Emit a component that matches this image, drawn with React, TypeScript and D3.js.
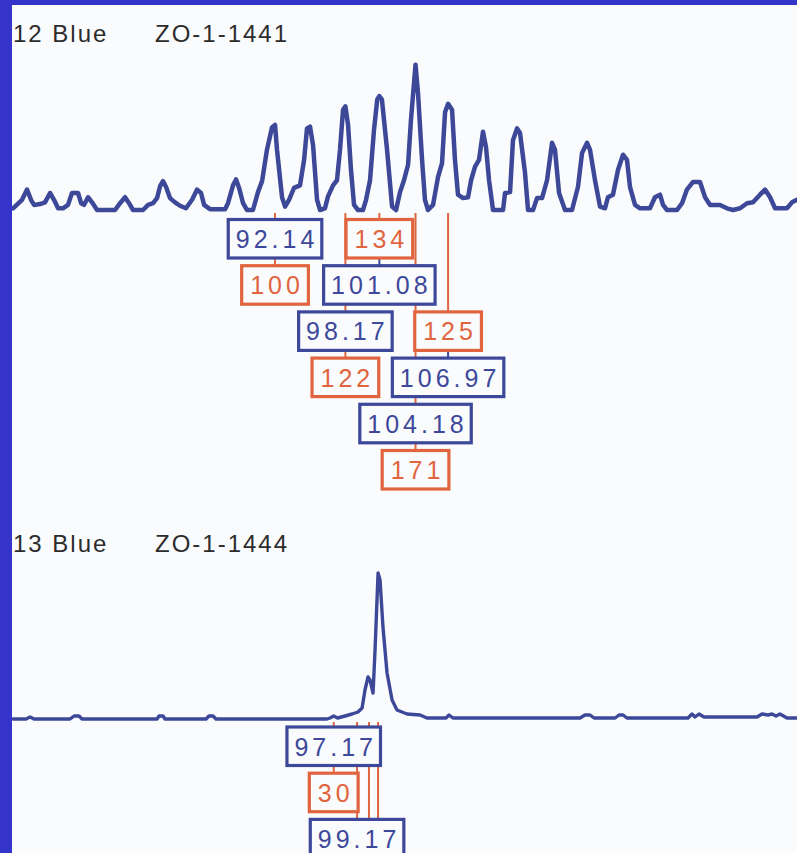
import React, { useEffect } from 'react';
import * as d3 from 'd3';

const W = 797;
const H = 853;

// x axis: fragment size in bp
const sizeDomain: [number, number] = [69.6, 136.87];

// panel 1 trace: [size (bp), height (RFU)]
const topTrace: [number, number][] = [
  [69.69, 2], [70.46, 12], [70.89, 24], [71.23, 12], [71.49, 6], [72.0, 7], [72.43, 9], [72.86, 20],
  [73.2, 12], [73.55, 2], [73.97, 2], [74.4, 6], [74.74, 20], [75.26, 20], [75.52, 8], [75.77, 6],
  [76.12, 15], [76.46, 9], [76.89, 0], [78.43, 0], [78.86, 8], [79.29, 15], [79.63, 8], [79.97, 0],
  [80.83, 0], [81.26, 6], [81.69, 8], [82.03, 14], [82.29, 28], [82.54, 34], [82.8, 27], [83.14, 14],
  [83.57, 9], [84.0, 5], [84.51, 2], [85.03, 12], [85.46, 24], [85.8, 20], [86.06, 6], [86.57, 1],
  [87.86, 1], [88.11, 8], [88.54, 29], [88.8, 36], [89.06, 26], [89.4, 8], [89.74, 0], [90.25, 0],
  [90.68, 21], [91.03, 34], [91.45, 71], [91.88, 97], [92.14, 100], [92.31, 71], [92.74, 15], [93.0, 4],
  [93.34, 12], [93.77, 26], [94.28, 29], [94.63, 59], [94.88, 96], [95.14, 98], [95.4, 76], [95.74, 12],
  [96.0, 0], [96.42, 2], [96.68, 16], [97.11, 29], [97.45, 35], [97.71, 71], [97.97, 118], [98.17, 122],
  [98.4, 100], [98.65, 47], [98.91, 6], [99.25, 0], [99.68, 0], [99.94, 12], [100.28, 35], [100.62, 94],
  [100.9, 130], [101.08, 134], [101.3, 130], [101.74, 71], [102.17, 4], [102.51, 0], [102.85, 21], [103.19, 35],
  [103.54, 53], [103.79, 106], [104.18, 171], [104.39, 138], [104.74, 59], [104.99, 12], [105.25, 0], [105.68, 6],
  [106.11, 39], [106.45, 55], [106.71, 115], [106.97, 125], [107.31, 118], [107.56, 59], [107.82, 18], [108.25, 14],
  [108.68, 15], [108.94, 35], [109.28, 51], [109.62, 59], [109.96, 92], [110.22, 74], [110.48, 35], [110.82, 0],
  [111.68, 0], [111.85, 20], [112.28, 21], [112.53, 82], [112.88, 96], [113.13, 91], [113.56, 44], [113.82, 0],
  [114.25, 0], [114.59, 14], [115.02, 14], [115.45, 35], [115.88, 79], [116.13, 71], [116.48, 20], [116.99, 0],
  [117.59, 0], [118.1, 27], [118.45, 67], [118.88, 79], [119.13, 71], [119.56, 35], [119.99, 4], [120.42, 2],
  [120.67, 15], [121.1, 18], [121.53, 47], [121.96, 65], [122.3, 59], [122.56, 27], [122.99, 6], [123.42, 2],
  [124.27, 2], [124.7, 15], [125.13, 18], [125.39, 6], [125.73, 0], [126.59, 0], [127.02, 8], [127.44, 24],
  [127.96, 33], [128.56, 33], [128.99, 15], [129.42, 6], [130.27, 6], [130.87, 2], [131.39, 0], [131.99, 2],
  [132.59, 8], [133.1, 9], [133.7, 18], [134.13, 24], [134.56, 15], [134.99, 2], [136.01, 2], [136.44, 9],
  [136.87, 12],
];

// panel 2 trace: [size (bp), height (RFU)]
const bottomTrace: [number, number][] = [
  [69.69, 0], [70.8, 0], [71.15, 20], [71.49, 0], [74.57, 0], [74.92, 30], [75.34, 30], [75.6, 0],
  [82.03, 0], [82.2, 30], [82.54, 30], [82.71, 0], [86.23, 0], [86.48, 30], [86.83, 30], [87.08, 0],
  [96.6, 0], [96.85, 10], [97.17, 30], [97.5, 10], [98.14, 30], [98.74, 50], [99.25, 70], [99.6, 110],
  [99.85, 290], [100.11, 420], [100.28, 390], [100.54, 260], [100.71, 690], [100.97, 1460], [101.14, 1390], [101.39, 920],
  [101.74, 460], [102.17, 190], [102.59, 90], [103.45, 50], [104.57, 40], [105.16, 10], [106.79, 10], [107.05, 40],
  [107.39, 10], [118.28, 10], [118.7, 40], [119.13, 40], [119.48, 10], [121.28, 10], [121.62, 40], [121.96, 40],
  [122.3, 10], [127.53, 10], [127.87, 50], [128.13, 20], [128.47, 50], [128.9, 20], [133.44, 20], [133.87, 50],
  [134.39, 40], [134.73, 50], [135.07, 30], [135.41, 50], [136.01, 10], [136.87, 10],
];

const dyeLabels = ['12 Blue', '13 Blue'];
const sampleNames = ['ZO-1-1441', 'ZO-1-1444'];

// panel 1 peak calls
const topPeakSizes = [92.14, 98.17, 101.08, 104.18, 106.97];
const topPeakHeights = [100, 122, 134, 171, 125];
const topSizeRows = [0, 2, 1, 4, 3];
const topHeightRows = [1, 3, 0, 5, 2];

// panel 2 peak calls
const bottomPeakSizes = [97.17, 99.17];
const bottomPeakHeights: (number | null)[] = [30, null];
const bottomSizeRows = [0, 2];
const bottomHeightRows: (number | null)[] = [1, null];
const bottomUnlabelledPeaks = [100.19, 100.97];

const BG = '#fafbfd';
const FRAME = '#3434ca';
const TRACE = '#3d4899';
const BLUE = '#3d489a';
const RED = '#e0653f';
const TITLE = '#2c2c2c';
const FONT = '"Liberation Sans", Arial, Helvetica, sans-serif';
const LFS = 25;
const LLS = 4;
const BOX_H = 38.5;

let measureCtx: CanvasRenderingContext2D | null = null;
function textWidth(s: string): number {
  if (!measureCtx) measureCtx = document.createElement('canvas').getContext('2d');
  if (!measureCtx) return s.length * 15;
  measureCtx.font = `${LFS}px ${FONT}`;
  return measureCtx.measureText(s).width + LLS * (s.length - 1);
}

type Item = { text: string; row: number; color: string };
type Peak = { size: number; items: Item[] };

function buildPeaks(
  sizes: number[],
  heights: (number | null)[],
  sRows: number[],
  hRows: (number | null)[]
): Peak[] {
  return sizes.map((s, i) => {
    const items: Item[] = [{ text: s.toFixed(2), row: sRows[i], color: BLUE }];
    const h = heights[i];
    const hr = hRows[i];
    if (h != null && hr != null) items.push({ text: String(h), row: hr, color: RED });
    items.sort((a, b) => a.row - b.row);
    return { size: s, items };
  });
}

function Labels({
  peaks,
  x,
  baseY,
  firstRowTop,
  unlabelled,
}: {
  peaks: Peak[];
  x: d3.ScaleLinear<number, number>;
  baseY: number;
  firstRowTop: number;
  unlabelled: number[];
}) {
  const rowTop = (r: number) => firstRowTop + r * 46.2;
  const lines: any[] = [];
  const boxes: any[] = [];
  unlabelled.forEach((s, i) => {
    lines.push(
      <line key={`u${i}`} x1={x(s)} x2={x(s)} y1={baseY} y2={H} stroke={RED} strokeWidth={2} />
    );
  });
  peaks.forEach((p, pi) => {
    const cx = x(p.size);
    lines.push(
      <line key={`s${pi}`} x1={cx} x2={cx} y1={baseY} y2={rowTop(p.items[0].row)} stroke={RED} strokeWidth={2} />
    );
    p.items.forEach((it, ii) => {
      if (ii > 0) {
        lines.push(
          <line
            key={`c${pi}-${ii}`}
            x1={cx}
            x2={cx}
            y1={rowTop(p.items[ii - 1].row) + BOX_H}
            y2={rowTop(it.row)}
            stroke={it.color}
            strokeWidth={2}
          />
        );
      }
      const tw = textWidth(it.text);
      const bw = tw + (it.text.length <= 3 ? 17 : 15);
      const top = rowTop(it.row);
      boxes.push(
        <g key={`b${pi}-${ii}`}>
          <rect x={cx - bw / 2} y={top} width={bw} height={BOX_H} fill={BG} stroke={it.color} strokeWidth={3.2} />
          <text
            x={cx - tw / 2}
            y={top + 28.5}
            fill={it.color}
            fontSize={LFS}
            letterSpacing={LLS}
            fontFamily={FONT}
          >
            {it.text}
          </text>
        </g>
      );
    });
  });
  return (
    <g>
      {lines}
      {boxes}
    </g>
  );
}

export default function App() {
  useEffect(() => {
    document.body.style.margin = '0';
  }, []);

  const x = d3.scaleLinear().domain(sizeDomain).range([12, W]);
  const yTop = d3.scaleLinear().domain([0, 200]).range([210, 40]);
  const yBot = d3.scaleLinear().domain([0, 1700]).range([719, 549]);

  const lineTop = d3.line<[number, number]>().x((d) => x(d[0])).y((d) => yTop(d[1]));
  const lineBot = d3.line<[number, number]>().x((d) => x(d[0])).y((d) => yBot(d[1]));

  const topPeaks = buildPeaks(topPeakSizes, topPeakHeights, topSizeRows, topHeightRows);
  const bottomPeaks = buildPeaks(bottomPeakSizes, bottomPeakHeights, bottomSizeRows, bottomHeightRows);

  const titleY = [42, 552];

  return (
    <svg
      width={W}
      height={H}
      viewBox={`0 0 ${W} ${H}`}
      style={{ display: 'block', position: 'absolute', left: 0, top: 0 }}
    >
      <rect x={0} y={0} width={W} height={H} fill={BG} />

      {dyeLabels.map((d, i) => (
        <g key={d} fontFamily={FONT} fontSize={24} fill={TITLE} letterSpacing={2}>
          <text x={13} y={titleY[i]}>{d}</text>
          <text x={155} y={titleY[i]}>{sampleNames[i]}</text>
        </g>
      ))}

      <Labels peaks={topPeaks} x={x} baseY={yTop(0) + 3} firstRowTop={219.5} unlabelled={[]} />
      <Labels
        peaks={bottomPeaks}
        x={x}
        baseY={yBot(0) + 3}
        firstRowTop={727}
        unlabelled={bottomUnlabelledPeaks}
      />

      <path d={lineTop(topTrace) || ''} fill="none" stroke={TRACE} strokeWidth={4.5} strokeLinejoin="round" strokeLinecap="round" />
      <path d={lineBot(bottomTrace) || ''} fill="none" stroke={TRACE} strokeWidth={3.4} strokeLinejoin="round" strokeLinecap="round" />

      <rect x={0} y={0} width={12} height={H} fill={FRAME} />
      <rect x={0} y={0} width={W} height={5} fill={FRAME} />
    </svg>
  );
}
